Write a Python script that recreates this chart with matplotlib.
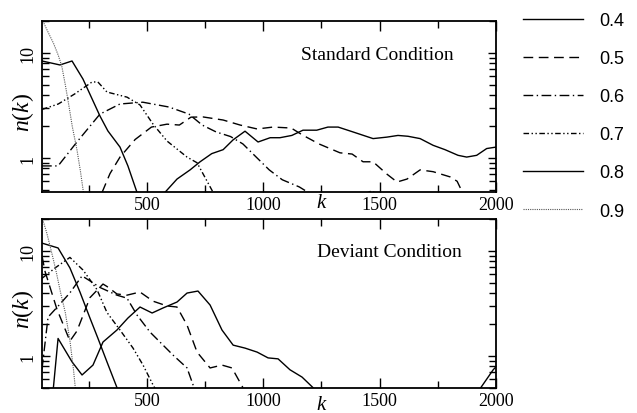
import matplotlib
matplotlib.use("Agg")
import matplotlib.pyplot as plt
from matplotlib.ticker import LogLocator, NullFormatter, FixedLocator, FixedFormatter

plt.rcParams["font.family"] = ["Liberation Serif", "DejaVu Serif"]
plt.rcParams["mathtext.fontset"] = "custom"
plt.rcParams["mathtext.rm"] = "Liberation Serif"
plt.rcParams["mathtext.it"] = "Liberation Serif:italic"

THRESHOLDS = ["0.4", "0.5", "0.6", "0.7", "0.8", "0.9"]

# Standard condition, n(k) per threshold
std_k_04 = [578, 630, 686, 729, 779, 828, 871, 922, 978, 1030, 1072, 1123, 1171, 1230, 1278,
            1322, 1386, 1472, 1531, 1579, 1622, 1674, 1730, 1781, 1837, 1874, 1917, 1960, 2000]
std_n_04 = [0.47, 0.63, 0.77, 0.92, 1.10, 1.20, 1.49, 1.80, 1.42, 1.56, 1.56, 1.64, 1.84, 1.84, 1.97,
            1.97, 1.77, 1.53, 1.58, 1.64, 1.61, 1.53, 1.32, 1.20, 1.06, 1.02, 1.06, 1.23, 1.27]
std_k_05 = [308, 342, 385, 450, 520, 587, 640, 690, 742, 828, 901, 974, 1042, 1120, 1170, 1240,
            1330, 1382, 1429, 1472, 1532, 1575, 1618, 1674, 1730, 1803, 1833, 1860]
std_n_05 = [0.47, 0.71, 1.02, 1.5, 1.97, 2.1, 2.06, 2.45, 2.46, 2.30, 2.06, 1.89, 1.97, 1.93, 1.65, 1.36,
            1.12, 1.09, 0.92, 0.92, 0.70, 0.59, 0.63, 0.77, 0.74, 0.66, 0.60, 0.45]
std_k_06 = [50, 119, 200, 299, 385, 483, 595, 681, 738, 798, 860, 913, 970, 1026, 1082, 1155,
            1200, 1300, 1420, 1470, 1500]
std_n_06 = [0.84, 0.84, 1.42, 2.62, 3.27, 3.4, 3.06, 2.62, 2.06, 1.77, 1.6, 1.36, 1.02, 0.77, 0.62, 0.53,
            0.46, 0.35, 0.44, 0.49, 0.40]
std_k_07 = [50, 120, 190, 265, 290, 329, 415, 471, 527, 587, 673, 716, 785]
std_n_07 = [2.9, 3.27, 4.07, 5.3, 5.3, 4.25, 3.8, 3.2, 2.1, 1.45, 1.02, 0.90, 0.47]
std_k_08 = [50, 127, 179, 226, 299, 333, 385, 419, 458]
std_n_08 = [8.4, 7.7, 8.4, 5.65, 2.51, 1.81, 1.27, 0.84, 0.47]
std_k_09 = [50, 75, 100, 120, 135, 150, 165, 180, 200, 215, 228]
std_n_09 = [21, 16, 12.3, 9.5, 7.5, 5.0, 3.2, 2.0, 1.2, 0.75, 0.47]

# Deviant condition
dev_k_04 = [50, 97, 119, 179, 222, 269, 312, 372, 419, 471, 523, 570, 630, 673, 720, 772, 823,
            871, 922, 974, 1021, 1064, 1115, 1167, 1214, 1260, 1900, 1932, 1988, 2000]
dev_n_04 = [0.2, 0.45, 1.47, 0.88, 0.66, 0.82, 1.36, 1.77, 2.30, 2.93, 2.57, 2.87, 3.27, 3.98, 4.16,
            3.06, 1.77, 1.27, 1.19, 1.09, 0.96, 0.94, 0.74, 0.63, 0.50, 0.3, 0.3, 0.49, 0.74, 0.79]
dev_k_05 = [50, 63, 114, 170, 200, 256, 312, 329, 372, 415, 471, 527, 587, 630, 673, 716, 772,
            823, 866, 913]
dev_n_05 = [9.0, 6.4, 2.8, 1.39, 1.73, 3.6, 4.85, 4.6, 3.9, 3.8, 4.07, 3.33, 3.0, 2.93, 1.97, 1.09, 0.77,
            0.82, 0.77, 0.50]
dev_k_06 = [50, 76, 120, 170, 222, 256, 299, 372, 415, 458, 514, 570, 613, 673, 699, 720]
dev_n_06 = [0.75, 2.35, 3.0, 4.0, 5.8, 5.2, 4.5, 3.8, 3.56, 2.46, 1.69, 1.27, 1.02, 0.77, 0.53, 0.4]
dev_k_07 = [50, 110, 170, 226, 286, 329, 385, 441, 484, 527, 545]
dev_n_07 = [5.5, 7.0, 8.7, 6.6, 4.3, 2.6, 1.77, 1.19, 0.82, 0.53, 0.45]
dev_k_08 = [50, 119, 170, 213, 256, 290, 329, 372]
dev_n_08 = [11.9, 10.7, 6.9, 4.07, 2.30, 1.48, 0.88, 0.50]
dev_k_09 = [50, 70, 90, 110, 130, 150, 170, 185, 195]
dev_n_09 = [21, 15, 10, 6.5, 4.0, 2.6, 1.4, 0.75, 0.45]

STYLES = [
    dict(color="black", lw=1.0, ls="-"),
    dict(color="black", lw=1.0, ls=(0, (7, 4))),
    dict(color="black", lw=1.0, ls=(0, (7, 2.5, 1, 2.5))),
    dict(color="black", lw=1.0, ls=(0, (4, 1.8, 1, 1.8, 1, 1.8))),
    dict(color="black", lw=1.0, ls="-"),
    dict(color="#555555", lw=0.8, ls=(0, (1, 1))),
]

fig = plt.figure(figsize=(6.37, 4.14), dpi=100)
ax_top = fig.add_axes([42 / 637, 1 - 193 / 414, 454 / 637, 171 / 414])
ax_bot = fig.add_axes([42 / 637, 1 - 389 / 414, 454 / 637, 169 / 414])

panels = [
    (ax_top, [(std_k_04, std_n_04), (std_k_05, std_n_05), (std_k_06, std_n_06),
              (std_k_07, std_n_07), (std_k_08, std_n_08), (std_k_09, std_n_09)],
     "Standard Condition", (0.570, 0.807), (0.474, 20.2), -0.062),
    (ax_bot, [(dev_k_04, dev_n_04), (dev_k_05, dev_n_05), (dev_k_06, dev_n_06),
              (dev_k_07, dev_n_07), (dev_k_08, dev_n_08), (dev_k_09, dev_n_09)],
     "Deviant Condition", (0.606, 0.805), (0.496, 20.2), -0.098),
]

handles = []
for ax, series, title, tpos, ylim, kpos in panels:
    hs = []
    for (k, n), st in zip(series, STYLES):
        h, = ax.plot(k, n, **st)
        hs.append(h)
    handles = handles or hs
    ax.set_yscale("log")
    ax.set_xlim(50, 2000)
    ax.set_ylim(*ylim)
    ax.xaxis.set_major_locator(FixedLocator([500, 1000, 1500, 2000]))
    ax.xaxis.set_minor_locator(FixedLocator([250, 750, 1250, 1750]))
    ax.yaxis.set_major_locator(FixedLocator([1, 10]))
    ax.yaxis.set_major_formatter(FixedFormatter(["1", "10"]))
    ax.yaxis.set_minor_locator(LogLocator(base=10, subs=range(2, 10)))
    ax.yaxis.set_minor_formatter(NullFormatter())
    ax.tick_params(which="both", direction="in", top=True, right=True, labelsize=13, width=1)
    ax.tick_params(axis="x", which="major", length=7, pad=3)
    ax.tick_params(axis="x", which="minor", length=5)
    ax.tick_params(axis="y", which="major", length=6, pad=4)
    ax.tick_params(axis="y", which="minor", length=5)
    for lab in ax.get_yticklabels():
        lab.set_rotation(90)
        lab.set_va("center")
    for sp in ax.spines.values():
        sp.set_linewidth(1.3)
    ax.set_ylabel(r"$n(k)$", fontsize=17, labelpad=0)
    ax.yaxis.set_label_coords(-0.014, 0.47)
    ax.text(tpos[0], tpos[1], title, transform=ax.transAxes, fontsize=14, va="center", ha="left")
    ax.text(1250, kpos, r"$k$", transform=ax.get_xaxis_transform(), fontsize=15,
            ha="center", va="center")

fig.legend(handles, THRESHOLDS, loc="upper left", bbox_to_anchor=(523 / 637, 1 - 13 / 414),
           frameon=False, prop={"family": "Liberation Sans", "size": 13},
           handlelength=3.3, handletextpad=0.95, labelspacing=1.17,
           borderpad=0, borderaxespad=0)

fig.savefig("out.png", dpi=100)
